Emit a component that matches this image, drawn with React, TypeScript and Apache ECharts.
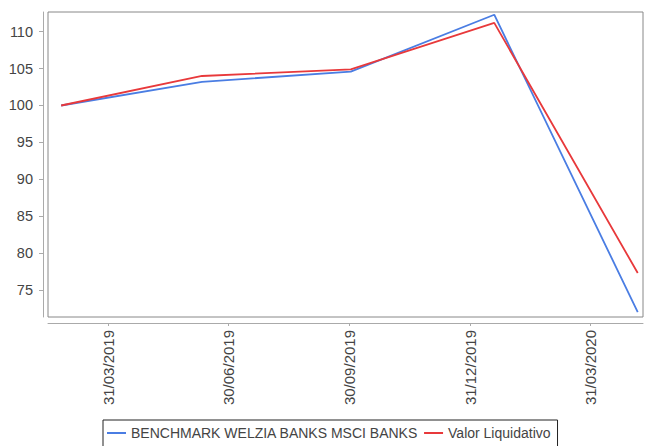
import React, { useEffect, useRef } from "react";
import * as echarts from "echarts";

const dates = ["2019-02-23", "2019-06-10", "2019-10-01", "2020-01-18", "2020-05-06"];
const benchmark = [100, 103.2, 104.6, 112.3, 72.0];
const valor = [100, 104.0, 104.9, 111.2, 77.3];
const seriesNames = ["BENCHMARK WELZIA BANKS MSCI BANKS", "Valor Liquidativo"];
const xTickDates = ["2019-03-31", "2019-06-30", "2019-09-30", "2019-12-31", "2020-03-31"];
const yTicks = [75, 80, 85, 90, 95, 100, 105, 110];
const xRange = ["2019-02-13", "2020-05-10"];
const yRange = [71.34, 112.67];

const ts = (s: string) => {
  const [y, m, d] = s.split("-").map(Number);
  return new Date(y, m - 1, d).getTime();
};
const pad = (n: number) => (n < 10 ? "0" + n : "" + n);
const fmt = (v: number) => {
  const d = new Date(v);
  return pad(d.getDate()) + "/" + pad(d.getMonth() + 1) + "/" + d.getFullYear();
};

export default function App() {
  const ref = useRef<HTMLDivElement>(null);
  useEffect(() => {
    if (!ref.current) return;
    const chart = echarts.init(ref.current, undefined, { renderer: "svg" });
    const font = "Arial, 'Liberation Sans', sans-serif";
    chart.setOption({
      animation: false,
      backgroundColor: "#fff",
      grid: {
        left: 48,
        top: 12,
        right: 2,
        bottom: 129,
        show: true,
        borderColor: "#888",
        borderWidth: 1,
        backgroundColor: "transparent",
      },
      xAxis: {
        type: "value",
        min: ts(xRange[0]),
        max: ts(xRange[1]),
        offset: 6,
        axisLine: { show: true, lineStyle: { color: "#aaa", width: 1 } },
        axisTick: {
          show: true,
          length: 3,
          lineStyle: { color: "#aaa" },
          customValues: xTickDates.map(ts),
        },
        splitLine: { show: false },
        axisLabel: {
          rotate: 90,
          margin: 7,
          color: "#444",
          fontFamily: font,
          fontSize: 15,
          customValues: xTickDates.map(ts),
          formatter: (v: number) => fmt(v),
          hideOverlap: false,
        },
      },
      yAxis: {
        type: "value",
        min: yRange[0],
        max: yRange[1],
        offset: 5,
        axisLine: { show: true, lineStyle: { color: "#aaa", width: 1 } },
        axisTick: {
          show: true,
          length: 4,
          lineStyle: { color: "#aaa" },
          customValues: yTicks,
        },
        splitLine: { show: false },
        axisLabel: {
          margin: 10,
          color: "#444",
          fontFamily: font,
          fontSize: 14.5,
          customValues: yTicks,
          formatter: (v: number) => String(Math.round(v)),
        },
      },
      legend: {
        left: 103,
        top: 420,
        orient: "horizontal",
        padding: [6, 7, 12, 4],
        itemWidth: 19,
        itemHeight: 2,
        itemGap: 6,
        icon: "rect",
        backgroundColor: "#fff",
        borderColor: "#222",
        borderWidth: 1,
        borderRadius: 0,
        textStyle: { color: "#444", fontFamily: font, fontSize: 14 },
        data: seriesNames,
      },
      series: [
        {
          name: seriesNames[0],
          type: "line",
          symbol: "none",
          color: "#4a7de3",
          lineStyle: { color: "#4a7de3", width: 1.8 },
          data: dates.map((d, i) => [ts(d), benchmark[i]]),
        },
        {
          name: seriesNames[1],
          type: "line",
          symbol: "none",
          color: "#e8393b",
          lineStyle: { color: "#e8393b", width: 1.8 },
          data: dates.map((d, i) => [ts(d), valor[i]]),
        },
      ],
    });
    return () => chart.dispose();
  }, []);
  return (
    <div
      ref={ref}
      style={{ position: "fixed", left: 0, top: 0, width: 645, height: 446, background: "#fff" }}
    />
  );
}
